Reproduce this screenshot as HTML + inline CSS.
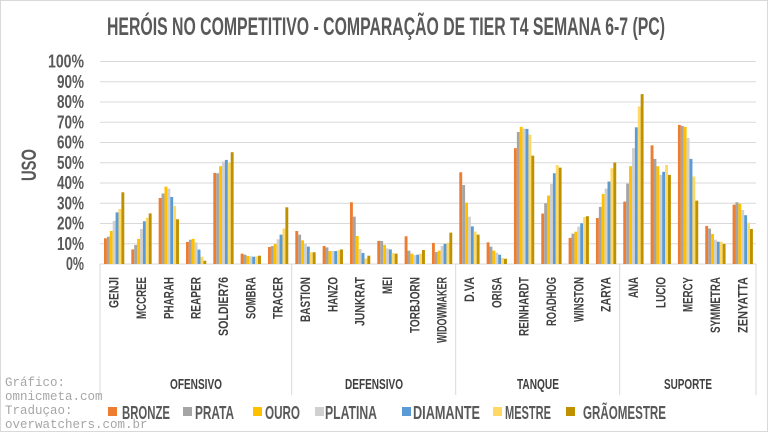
<!DOCTYPE html>
<html><head><meta charset="utf-8"><style>
html,body{margin:0;padding:0;background:#fff;}
svg{display:block;}
text{font-family:"Liberation Sans",sans-serif;}
text.mono{font-family:"Liberation Mono",monospace;}
</style></head><body>
<svg id="s" width="768" height="432" viewBox="0 0 768 432" xmlns="http://www.w3.org/2000/svg">
<rect x="0.5" y="0.5" width="767" height="431" fill="#fff" stroke="#d9d9d9"/>
<text x="107" y="35" font-size="25" font-weight="bold" fill="#595959" textLength="558" lengthAdjust="spacingAndGlyphs">HERÓIS NO COMPETITIVO - COMPARAÇÃO DE TIER T4 SEMANA 6-7 (PC)</text>
<text transform="translate(36,165) rotate(-90)" text-anchor="middle" font-size="21" font-weight="bold" fill="#595959" textLength="32" lengthAdjust="spacingAndGlyphs">USO</text>
<g id="g"></g>
<g font-size="12.5" fill="#a6a6a6">
<text class="mono" x="5" y="386">Gráfico:</text>
<text class="mono" x="5" y="400">omnicmeta.com</text>
<text class="mono" x="5" y="414">Traduçao:</text>
<text class="mono" x="5" y="428">overwatchers.com.br</text>
</g>
</svg>
<script>
const g=document.getElementById('g');let h='';
const y0=264,pp=2.025,x0=100,cw=27.33;
for(let i=0;i<=10;i++){const y=y0-i*10*pp;
h+=`<line x1="100" x2="756" y1="${y}" y2="${y}" stroke="#d9d9d9" stroke-width="1"/>`;
const t=i*10+'%';h+=`<text x="84" y="${y+6}" text-anchor="end" font-size="18" font-weight="bold" fill="#595959" textLength="${t.length*9}" lengthAdjust="spacingAndGlyphs">${t}</text>`;}
const cols=['#ED7D31','#A5A5A5','#FFC000','#D0D0D0','#5B9BD5','#FFD966','#BF9000'];
const D=[['GENJI',12.7,13.5,16.3,21.3,25.5,27.2,35.4],['MCCREE',7.2,9.4,12.4,17.3,21.1,22.9,25],['PHARAH',32.6,34.8,38.2,37.2,33.1,28.7,22.1],['REAPER',10.9,12,12.4,10.7,7.1,3.6,1.6],['SOLDIER76',45,44.8,48.3,50.6,51.4,49.9,55.2],['SOMBRA',5.1,4.6,4,3.8,3.6,3.8,4.1],['TRACER',8.4,8.9,9.9,12.2,14.5,17.5,28],
['BASTION',16.3,14.5,11.7,9.9,8.6,5.8,5.8],['HANZO',8.9,8.2,6.4,6.4,6.4,6.8,7.2],['JUNKRAT',30.5,23.4,13.8,7.4,5.4,2.8,4.1],['MEI',11.4,11.4,9.4,7.7,7.2,5.4,5.1],['TORBJORN',13.7,6.6,5.1,4.4,4.6,5.1,6.9],['WIDOWMAKER',10.4,5.9,6.6,8.9,10,10.5,15.5],
['D.VA',45.3,39,30.3,23.4,18.6,16,14.5],['ORISA',10.7,8.6,6.6,5.6,4.6,3,2.6],['REINHARDT',57.2,65.2,67.7,66.9,66.7,63.9,53.5],['ROADHOG',24.9,30,33.8,39.5,44.8,48.9,47.6],['WINSTON',12.9,15,16,18.5,20.1,23.2,23.6],['ZARYA',22.7,28.2,34.6,37.2,40.7,47.3,50.1],
['ANA',30.8,39.7,48.3,57.2,67.5,77.8,83.9],['LUCIO',58.6,51.9,48.3,44,45.5,48.9,44],['MERCY',68.7,68.2,67.7,62.3,51.9,43.2,31.3],['SYMMETRA',18.8,17.5,14.8,12,11,11,9.9],['ZENYATTA',29.3,30.5,29.8,26.7,24.1,20.4,17.3]];
D.forEach((d,i)=>{const cx=x0+i*cw;
for(let k=0;k<7;k++){const v=d[k+1]*pp;h+=`<rect x="${(cx+4+k*2.9).toFixed(2)}" y="${(y0-v).toFixed(2)}" width="2.9" height="${v.toFixed(2)}" fill="${cols[k]}"/>`;}
const n=d[0];const L=n.length*7-(n.split('I').length-1)*4-(n.split('.').length-1)*3;
h+=`<text transform="translate(${(cx+cw/2+5).toFixed(1)},277) rotate(-90)" text-anchor="end" font-size="14" font-weight="bold" fill="#404040" textLength="${L}" lengthAdjust="spacingAndGlyphs">${n}</text>`;});
[100,291.7,455.7,619.7,756].forEach(x=>h+=`<line x1="${x}" x2="${x}" y1="264" y2="395" stroke="#d9d9d9"/>`);
[['OFENSIVO',196,52],['DEFENSIVO',374,58],['TANQUE',538,42],['SUPORTE',688,48]].forEach(a=>h+=`<text x="${a[1]}" y="389" text-anchor="middle" font-size="15" font-weight="bold" fill="#404040" textLength="${a[2]}" lengthAdjust="spacingAndGlyphs">${a[0]}</text>`);
[['BRONZE',108,122,48],['PRATA',183,195,39],['OURO',253,265,35],['PLATINA',315,325,52],['DIAMANTE',402,413,67],['MESTRE',493,505,46],['GRÃOMESTRE',566,583,83]].forEach((a,k)=>{h+=`<rect x="${a[1]}" y="407" width="9" height="9" fill="${cols[k]}"/><text x="${a[2]}" y="419" font-size="18" font-weight="bold" fill="#595959" textLength="${a[3]}" lengthAdjust="spacingAndGlyphs">${a[0]}</text>`;});
g.innerHTML=h;
</script>
</body></html>
